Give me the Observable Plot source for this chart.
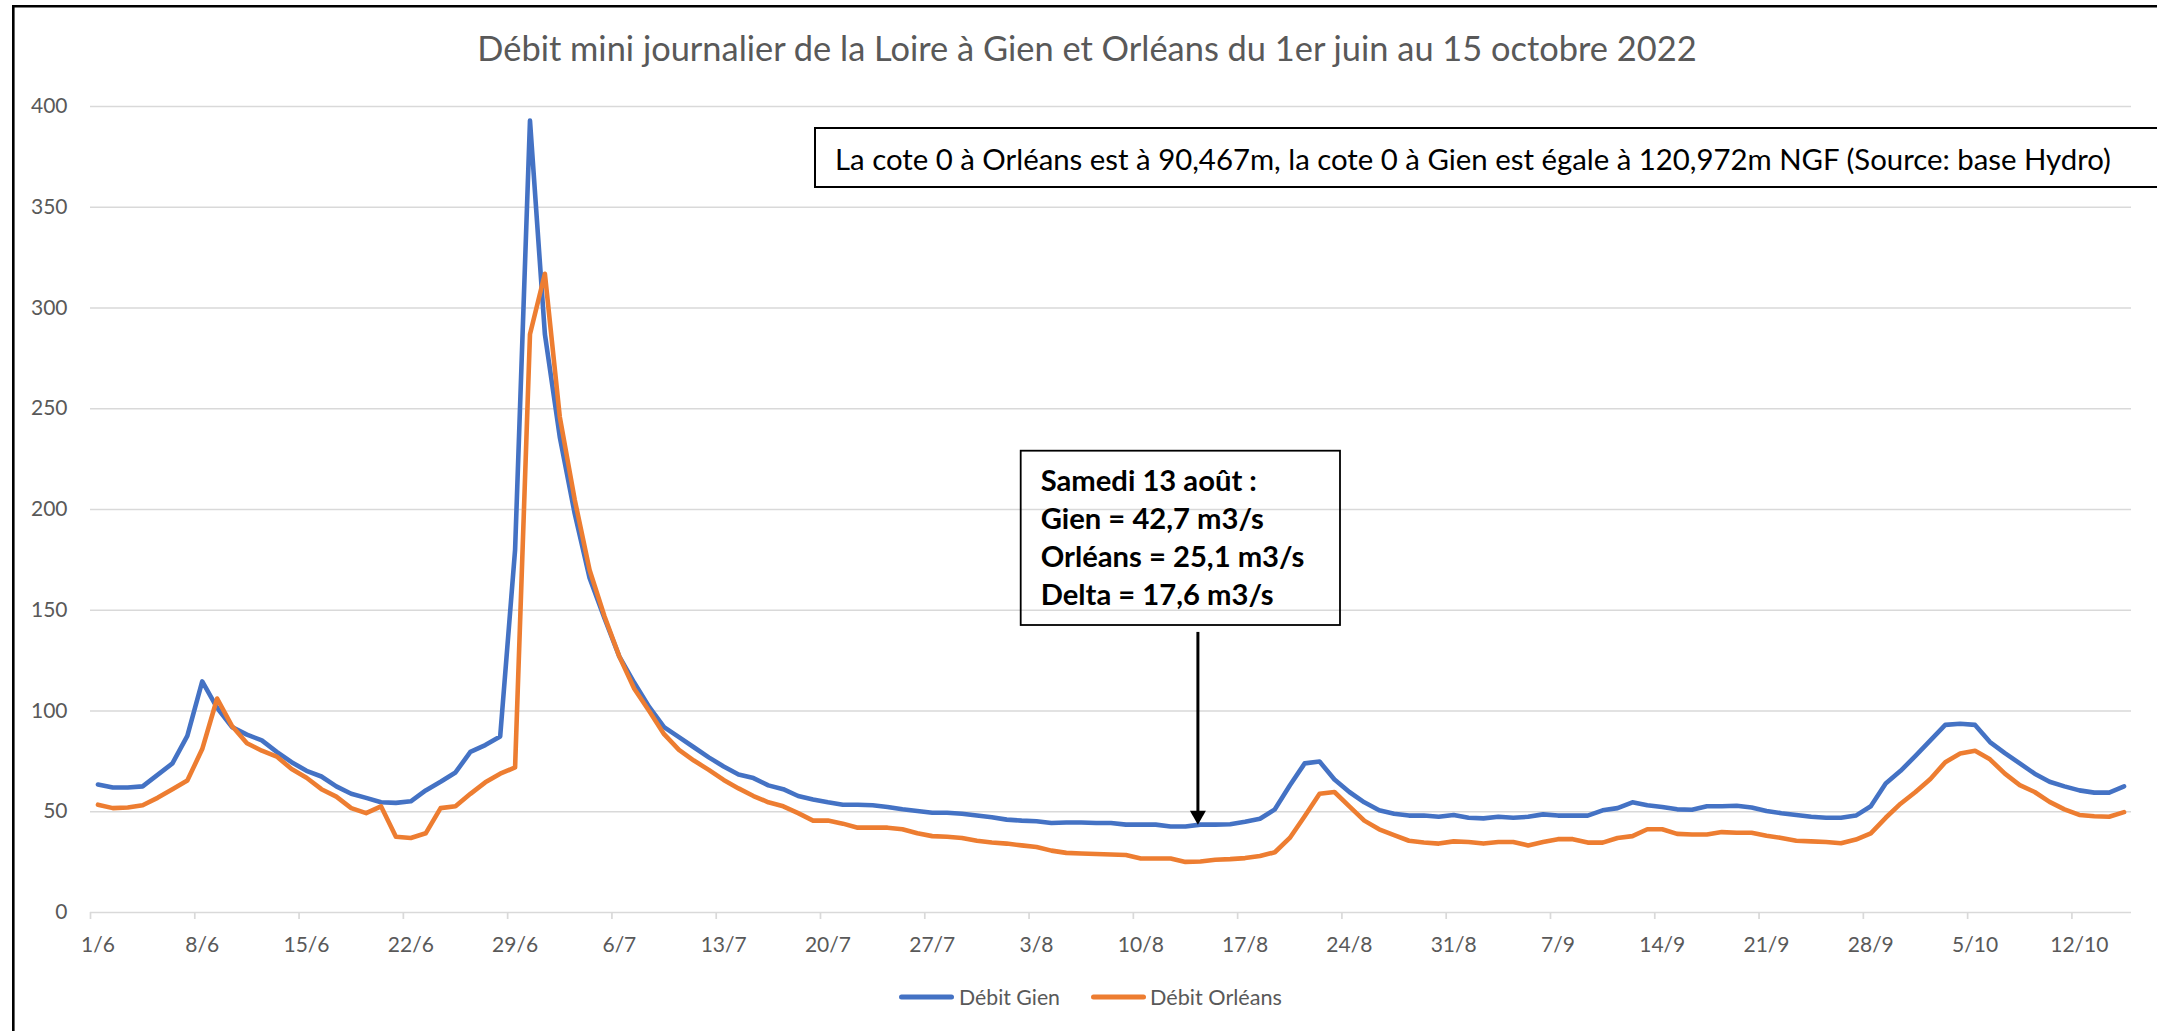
<!DOCTYPE html>
<html>
<head>
<meta charset="utf-8">
<script src="https://cdn.jsdelivr.net/npm/d3@7"></script>
<script src="https://cdn.jsdelivr.net/npm/@observablehq/plot@0.6"></script>
<style>
  html, body { margin: 0; padding: 0; background: #fff; }
  #wrap { position: relative; width: 2157px; height: 1031px; overflow: hidden; background: #fff; }
  #wrap > svg { position: absolute; left: 0; top: 0; }
</style>
</head>
<body>
<div id="wrap"></div>
<script>
// ---------------- DATA ----------------
const startDay = "2022-06-01";           // first daily value (1er juin 2022)
const endDay = "2022-10-15";             // last daily value (15 octobre 2022)

const debitGien = [
  63.5, 62.0, 62.0, 62.6, 68.3, 74.0, 87.7, 114.7, 101.6, 92.0,
  88.3, 85.4, 79.7, 74.6, 70.3, 67.5, 62.6, 58.9, 56.9, 54.7,
  54.4, 55.2, 60.6, 64.9, 69.5, 79.7, 83.1, 87.4, 180.0, 393.0,
  287.0, 236.0, 198.0, 166.0, 146.0, 127.0, 114.0, 102.0, 92.0, 87.0,
  82.0, 77.0, 72.5, 68.5, 66.7, 63.1, 61.2, 57.8, 56.1, 54.7,
  53.5, 53.5, 53.2, 52.4, 51.2, 50.4, 49.5, 49.5, 49.0, 48.1,
  47.3, 46.1, 45.6, 45.3, 44.4, 44.7, 44.7, 44.4, 44.4, 43.6,
  43.6, 43.6, 42.7, 42.7, 43.6, 43.6, 43.8, 45.0, 46.5, 51.2,
  63.0, 74.0, 74.9, 66.0, 59.8, 54.7, 50.7, 49.0, 48.1, 48.1,
  47.5, 48.4, 47.0, 46.7, 47.5, 47.0, 47.5, 48.7, 48.1, 48.1,
  48.1, 50.7, 51.8, 54.7, 53.2, 52.4, 51.2, 51.0, 52.7, 52.7,
  53.0, 52.1, 50.4, 49.3, 48.4, 47.5, 47.0, 47.0, 48.1, 52.7,
  64.0, 70.3, 77.7, 85.4, 93.1, 93.7, 93.1, 84.6, 79.1, 74.0,
  68.9, 64.9, 62.6, 60.6, 59.5, 59.5, 62.6
];

const debitOrleans = [
  53.5, 51.8, 52.1, 53.2, 56.9, 61.2, 65.5, 81.1, 106.2, 92.5,
  84.0, 80.3, 77.4, 71.2, 66.9, 61.2, 57.5, 51.8, 49.3, 52.7,
  37.6, 37.0, 39.3, 51.8, 52.7, 58.9, 64.6, 68.9, 72.0, 287.0,
  317.0, 246.0, 205.0, 170.0, 147.0, 127.0, 111.0, 100.0, 88.5, 80.7,
  75.4, 70.8, 65.8, 61.6, 57.8, 54.7, 52.7, 49.3, 45.6, 45.6,
  44.1, 42.1, 42.1, 42.1, 41.3, 39.3, 37.9, 37.6, 37.0, 35.6,
  34.7, 34.2, 33.3, 32.5, 30.7, 29.6, 29.3, 29.0, 28.8, 28.5,
  26.8, 26.8, 26.8, 25.1, 25.3, 26.2, 26.5, 27.0, 28.0, 29.9,
  37.0, 47.8, 58.9, 59.8, 52.7, 45.6, 41.3, 38.4, 35.6, 34.7,
  34.2, 35.3, 35.0, 34.2, 35.0, 35.0, 33.3, 35.0, 36.4, 36.4,
  34.7, 34.7, 37.0, 37.9, 41.3, 41.3, 39.0, 38.7, 38.7, 39.9,
  39.6, 39.6, 38.1, 37.0, 35.6, 35.3, 35.0, 34.4, 36.2, 39.3,
  47.0, 54.0, 59.8, 66.3, 74.6, 78.9, 80.3, 76.0, 68.9, 63.2,
  59.8, 54.9, 51.2, 48.4, 47.8, 47.5, 49.8
];

const seriesNames = ["Débit Gien", "Débit Orléans"];
const seriesColors = ["#4472C4", "#ED7D31"];

const yTicks = [0, 50, 100, 150, 200, 250, 300, 350, 400];
const xTickLabels = ["1/6", "8/6", "15/6", "22/6", "29/6", "6/7", "13/7", "20/7", "27/7",
  "3/8", "10/8", "17/8", "24/8", "31/8", "7/9", "14/9", "21/9", "28/9", "5/10", "12/10"];

const titleText = "Débit mini journalier de la Loire à Gien et Orléans du 1er juin au 15 octobre 2022";
const noteText = "La cote 0 à Orléans est à 90,467m, la cote 0 à Gien est égale à 120,972m NGF (Source: base Hydro)";
const calloutLines = ["Samedi 13 août :", "Gien = 42,7 m3/s", "Orléans = 25,1 m3/s", "Delta = 17,6 m3/s"];
const calloutDate = "2022-08-14T08:00:00Z"; // where the callout arrow stands
const calloutFrom = 139;                    // arrow start (m3/s level under the box)
const calloutTo = 43.6;                     // arrow tip (Gien level)

// ---------------- BUILD ----------------
const DAY = 864e5;
const t0 = Date.parse(startDay + "T00:00:00Z");
const tEnd = Date.parse(endDay + "T00:00:00Z") + DAY;
const toRows = (vals, name) => vals.map((v, i) => ({date: new Date(t0 + i * DAY + DAY / 2), value: v, serie: name}));
const gienRows = toRows(debitGien, seriesNames[0]);
const orleansRows = toRows(debitOrleans, seriesNames[1]);

const parseLabel = (s, hour) => { const [d, m] = s.split("/").map(Number); return new Date(Date.UTC(2022, m - 1, d, hour)); };
const tickDates = xTickLabels.map(s => parseLabel(s, 0));
const labelDates = xTickLabels.map(s => parseLabel(s, 12));
const labelMap = new Map(labelDates.map((d, i) => [+d, xTickLabels[i]]));

const downTriangle = {
  draw(ctx) { ctx.moveTo(-8, -14); ctx.lineTo(8, -14); ctx.lineTo(0, 0); ctx.closePath(); }
};

const W = 2157, H = 1031;
const chart = Plot.plot({
  width: W, height: H,
  marginLeft: 90, marginRight: 26, marginTop: 106, marginBottom: 119,
  style: {fontFamily: "Lato, 'Open Sans', sans-serif", fontSize: "21px", color: "#595959", background: "transparent", overflow: "visible"},
  x: {type: "utc", domain: [new Date(t0), new Date(tEnd)]},
  y: {domain: [0, 400]},
  marks: [
    Plot.gridY(yTicks, {stroke: "#d9d9d9", strokeOpacity: 1, strokeWidth: 1.7}),
    Plot.axisY(yTicks, {tickSize: 0, tickPadding: 23, label: null, fill: "#595959"}),
    Plot.axisX(tickDates, {tickSize: 7, tickFormat: () => "", stroke: "#d9d9d9", strokeWidth: 1.7, label: null}),
    Plot.axisX(labelDates, {tickSize: 0, tickPadding: 25, tickFormat: d => labelMap.get(+d), label: null, fill: "#595959"}),
    Plot.lineY(gienRows, {x: "date", y: "value", stroke: seriesColors[0], strokeWidth: 4.6, strokeLinejoin: "round", strokeLinecap: "round"}),
    Plot.lineY(orleansRows, {x: "date", y: "value", stroke: seriesColors[1], strokeWidth: 4.6, strokeLinejoin: "round", strokeLinecap: "round"}),
    Plot.ruleX([new Date(calloutDate)], {y1: calloutFrom, y2: calloutTo, stroke: "#000", strokeWidth: 3, insetBottom: 10}),
    Plot.dot([new Date(calloutDate)], {x: d => d, y: () => calloutTo, symbol: downTriangle, fill: "#000", stroke: "none"})
  ]
});
document.getElementById("wrap").appendChild(chart);

// ---------------- OVERLAY (title, note, callout, legend, frame) ----------------
const ov = d3.select("#wrap").append("svg")
  .attr("width", W).attr("height", H)
  .style("pointer-events", "none")
  .attr("font-family", "Lato, 'Open Sans', sans-serif");

function fit(sel, target) {
  const fs = parseFloat(sel.attr("font-size"));
  const w = sel.node().getComputedTextLength();
  if (w > 0) sel.attr("font-size", (fs * target / w).toFixed(2));
  return parseFloat(sel.attr("font-size"));
}

// outer frame (left and top edges visible)
ov.append("path").attr("d", `M13.3,${H} V6.3 H${W}`).attr("fill", "none").attr("stroke", "#000").attr("stroke-width", 2.6);

// title
const title = ov.append("text").attr("x", 1087).attr("y", 61).attr("text-anchor", "middle")
  .attr("font-size", 28).attr("fill", "#595959").text(titleText);

// note box
ov.append("rect").attr("x", 815).attr("y", 128).attr("width", 1400).attr("height", 59)
  .attr("fill", "#fff").attr("stroke", "#000").attr("stroke-width", 2);
const note = ov.append("text").attr("x", 835).attr("y", 170).attr("font-size", 26).attr("fill", "#000").text(noteText);

// callout box (transparent)
ov.append("rect").attr("x", 1020.7).attr("y", 450.7).attr("width", 319.3).attr("height", 174.3)
  .attr("fill", "none").attr("stroke", "#000").attr("stroke-width", 1.8);
const baselines = [491, 529, 567, 605];
const cl = calloutLines.map((s, i) => ov.append("text").attr("x", 1040.7).attr("y", baselines[i])
  .attr("font-size", 26).attr("font-weight", 700).attr("fill", "#000").text(s));

// legend
const legendItems = [
  {x0: 899, x1: 954, tx: 959, w: 101},
  {x0: 1091, x1: 1146, tx: 1150, w: 132}
];
const legTexts = legendItems.map((it, i) => {
  ov.append("line").attr("x1", it.x0 + 2.5).attr("x2", it.x1 - 2.5).attr("y1", 997).attr("y2", 997)
    .attr("stroke", seriesColors[i]).attr("stroke-width", 5).attr("stroke-linecap", "round");
  return ov.append("text").attr("x", it.tx).attr("y", 1004.5).attr("font-size", 20).attr("fill", "#595959").text(seriesNames[i]);
});

function fitAll() {
  fit(title, 1219);
  fit(note, 1276);
  const fs = fit(cl[2], 263.7);
  cl.forEach(t => t.attr("font-size", fs));
  legTexts.forEach((t, i) => fit(t, legendItems[i].w));
}
fitAll();
if (document.fonts && document.fonts.ready) document.fonts.ready.then(fitAll);
</script>
</body>
</html>
